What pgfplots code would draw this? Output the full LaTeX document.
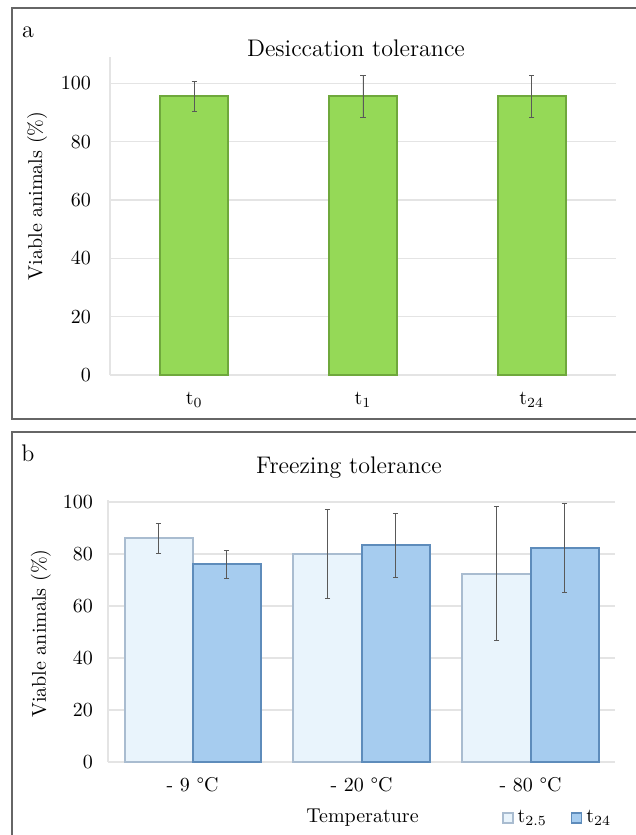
\documentclass[border=0pt]{standalone}
\usepackage{pgfplots}
\pgfplotsset{compat=1.18}
\definecolor{grn}{HTML}{95D957}
\definecolor{grnd}{HTML}{6FA83C}
\definecolor{lb}{HTML}{E9F4FC}
\definecolor{lbd}{HTML}{A9BCD0}
\definecolor{mb}{HTML}{A6CCEF}
\definecolor{mbd}{HTML}{5E8CBB}
\definecolor{gridc}{HTML}{E4E4E4}

\pgfplotsset{
  panel/.style={
    scale only axis, ybar,
    xmin=-0.5, xmax=2.5, ymin=0,
    xtick={0,1,2}, ytick={0,20,...,100},
    ymajorgrids, grid style={gridc, line width=0.6pt},
    axis x line*=bottom, axis y line*=left,
    axis line style={-, gridc, line width=0.6pt},
    major tick length=0pt, tick style={draw=none},
    tick label style={font=\fontsize{10}{12}\selectfont},
    label style={font=\fontsize{10}{12}\selectfont},
    error bars/y dir=both, error bars/y explicit,
    error bars/error bar style={black!65, line width=0.45pt},
    error bars/error mark options={rotate=90, mark size=1.3pt, black!65, line width=0.45pt},
  },
}

\begin{document}
\begin{tikzpicture}
\useasboundingbox (0,0) rectangle (318pt,-417.5pt);

% panel frames
\draw[black!60, line width=0.8pt] (6pt,-4pt) rectangle (322pt,-209.5pt);
\draw[black!60, line width=0.8pt] (6pt,-216pt) rectangle (322pt,-424pt);
\node[font=\fontsize{12}{14}\selectfont] at (14pt,-16pt) {a};
\node[font=\fontsize{12}{14}\selectfont] at (14pt,-226.5pt) {b};
\node[font=\fontsize{12}{14}\selectfont] at (178pt,-24pt) {Desiccation tolerance};
\node[font=\fontsize{12}{14}\selectfont] at (174.5pt,-234pt) {Freezing tolerance};

% a: desiccation
\begin{axis}[panel,
  at={(55pt,-187.5pt)}, anchor=south west,
  width=253pt, height=159pt, ymax=109,
  bar width=34pt,
  xticklabels={t\textsubscript{0}, t\textsubscript{1}, t\textsubscript{24}},
  xticklabel style={yshift=-5pt},
  yticklabel style={xshift=-6pt},
  ylabel={Viable animals (\%)},
  ylabel style={at={(rel axis cs:0,0.563)}, anchor=center, rotate=0, yshift=36.5pt},
]
\addplot[fill=grn, draw=grnd, line width=1pt]
  coordinates {(0,95.5) +- (0,5.0) (1,95.5) +- (0,7.2) (2,95.5) +- (0,7.2)};
\end{axis}

% b: freezing
\begin{axis}[panel,
  at={(54pt,-381pt)}, anchor=south west,
  width=253.5pt, height=131pt, ymax=100.8,
  bar width=34pt, ybar=0pt,
  xticklabels={- 9 °C, - 20 °C, - 80 °C},
  xticklabel style={yshift=-4pt},
  yticklabel style={xshift=-4pt},
  ylabel={Viable animals (\%)},
  ylabel style={at={(rel axis cs:0,0.49)}, anchor=center, yshift=33.5pt},
  xlabel={Temperature},
  xlabel style={at={(rel axis cs:0.502,0)}, anchor=center, yshift=-28pt},
  legend style={at={(rel axis cs:0.765,-0.214)}, anchor=west, draw=none, fill=none,
    legend columns=2, font=\fontsize{10}{12}\selectfont,
    /tikz/every even column/.append style={column sep=10pt}},
  legend image code/.code={\draw[#1, line width=0.7pt] (-3pt,-2.5pt) rectangle (2pt,2.5pt);},
]
\addplot[fill=lb, draw=lbd, line width=1pt]
  coordinates {(0,86.0) +- (0,5.6) (1,80.0) +- (0,17.0) (2,72.5) +- (0,25.8)};
\addlegendentry{t\textsubscript{2.5}}
\addplot[fill=mb, draw=mbd, line width=1pt]
  coordinates {(0,76.0) +- (0,5.5) (1,83.3) +- (0,12.2) (2,82.3) +- (0,17.0)};
\addlegendentry{t\textsubscript{24}}
\end{axis}
\end{tikzpicture}
\end{document}
